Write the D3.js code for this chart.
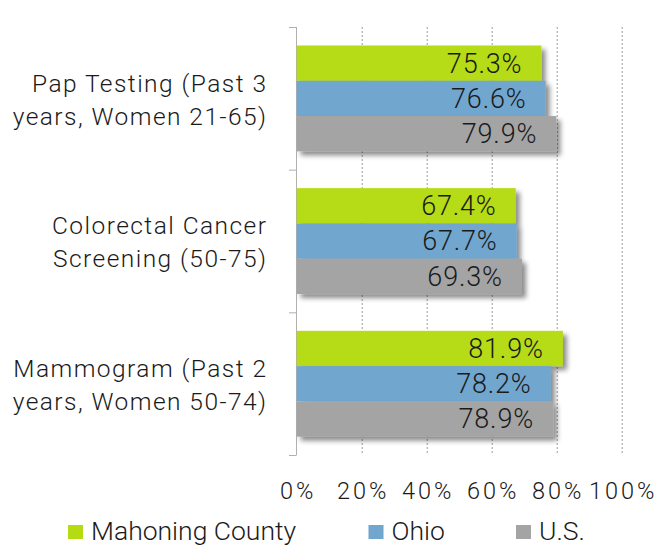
<!DOCTYPE html>
<html><head><meta charset="utf-8">
<script src="https://cdn.jsdelivr.net/npm/d3@7"></script>
<style>
body{margin:0;background:#fff;}
text{font-family:Roboto,"Liberation Sans",sans-serif;font-weight:300;fill:#1a1a1a;}
</style></head>
<body><svg id="c" width="657" height="546"></svg>
<script>
const categories = [["Pap Testing (Past 3","years, Women 21-65)"],["Colorectal Cancer","Screening (50-75)"],["Mammogram (Past 2","years, Women 50-74)"]];
const seriesNames = ["Mahoning County","Ohio","U.S."];
const mahoning = [75.3, 67.4, 81.9];
const ohio = [76.6, 67.7, 78.2];
const us = [79.9, 69.3, 78.9];
const xTicks = [0,20,40,60,80,100];
const colors = ["#b5dc13","#71a6cf","#a4a4a4"];

const svg = d3.select("#c");
const defs = svg.append("defs");
const f = defs.append("filter").attr("id","sh").attr("x","-10%").attr("y","-30%").attr("width","130%").attr("height","180%");
f.append("feDropShadow").attr("dx",4).attr("dy",4).attr("stdDeviation",2.5).attr("flood-color","#000").attr("flood-opacity",0.45);

const x = d3.scaleLinear().domain([0,100]).range([296.7,621.7]);
const y0 = d3.scaleBand().domain(d3.range(categories.length)).range([27,455]).padding(0);
const bw = y0.bandwidth();
const y1 = d3.scaleBand().domain(d3.range(3)).range([18.5, bw-18.3]).padding(0);
const vals = [mahoning, ohio, us];

// gridlines
svg.append("g").selectAll("line").data(xTicks.slice(1)).join("line")
  .attr("x1",d=>x(d)+0.5).attr("x2",d=>x(d)+0.5).attr("y1",27).attr("y2",455)
  .attr("stroke","#9a9a9a").attr("stroke-width",1).attr("stroke-dasharray","2,2");

// axis line + ticks
svg.append("line").attr("x1",296.5).attr("x2",296.5).attr("y1",27).attr("y2",455).attr("stroke","#b0b0b0");
svg.append("g").selectAll("line").data(d3.range(categories.length+1)).join("line")
  .attr("x1",289).attr("x2",296.5)
  .attr("y1",d=>27+d*bw+0.5).attr("y2",d=>27+d*bw+0.5).attr("stroke","#b0b0b0");

// bars
const groups = svg.append("g").selectAll("g").data(categories).join("g")
  .attr("transform",(d,i)=>`translate(0,${y0(i)})`);
const bls = 0.8, cls = 1.45;
groups.each(function(c,i){
  const g = d3.select(this);
  vals.forEach((s,k)=>{
    g.append("rect").attr("x",x(0)).attr("y",y1(k)).attr("width",x(s[i])-x(0)).attr("height",y1.bandwidth())
      .attr("fill",colors[k]).attr("filter","url(#sh)");
  });
  vals.forEach((s,k)=>{
    g.append("text").attr("x",x(s[i])-20+bls).attr("y",y1(k)+y1.bandwidth()/2+9.4)
      .attr("text-anchor","end").style("font-size","27px").style("letter-spacing",bls+"px").text(s[i].toFixed(1)+"%");
  });
  g.append("text").attr("x",266+cls).attr("y",bw/2-6.8).attr("text-anchor","end")
    .style("font-size","24.5px").style("letter-spacing",cls+"px").text(c[0]);
  g.append("text").attr("x",266+cls).attr("y",bw/2+26.2).attr("text-anchor","end")
    .style("font-size","24.5px").style("letter-spacing",cls+"px").text(c[1]);
});

// x tick labels
const tls = 3;
svg.append("g").selectAll("text").data(xTicks).join("text")
  .attr("x",d=>x(d)+tls/2).attr("y",498.5).attr("text-anchor","middle")
  .style("font-size","23.5px").style("letter-spacing",tls+"px").text(d=>d+"%");

// legend
const lx = [68,368.5,516];
const lg = svg.append("g").selectAll("g").data(seriesNames).join("g")
  .attr("transform",(d,i)=>`translate(${lx[i]},525)`);
lg.append("rect").attr("width",15).attr("height",14).attr("fill",(d,i)=>colors[i]);
lg.append("text").attr("x",23).attr("y",14.5).style("font-size","26.5px").text(d=>d);
</script></body></html>
